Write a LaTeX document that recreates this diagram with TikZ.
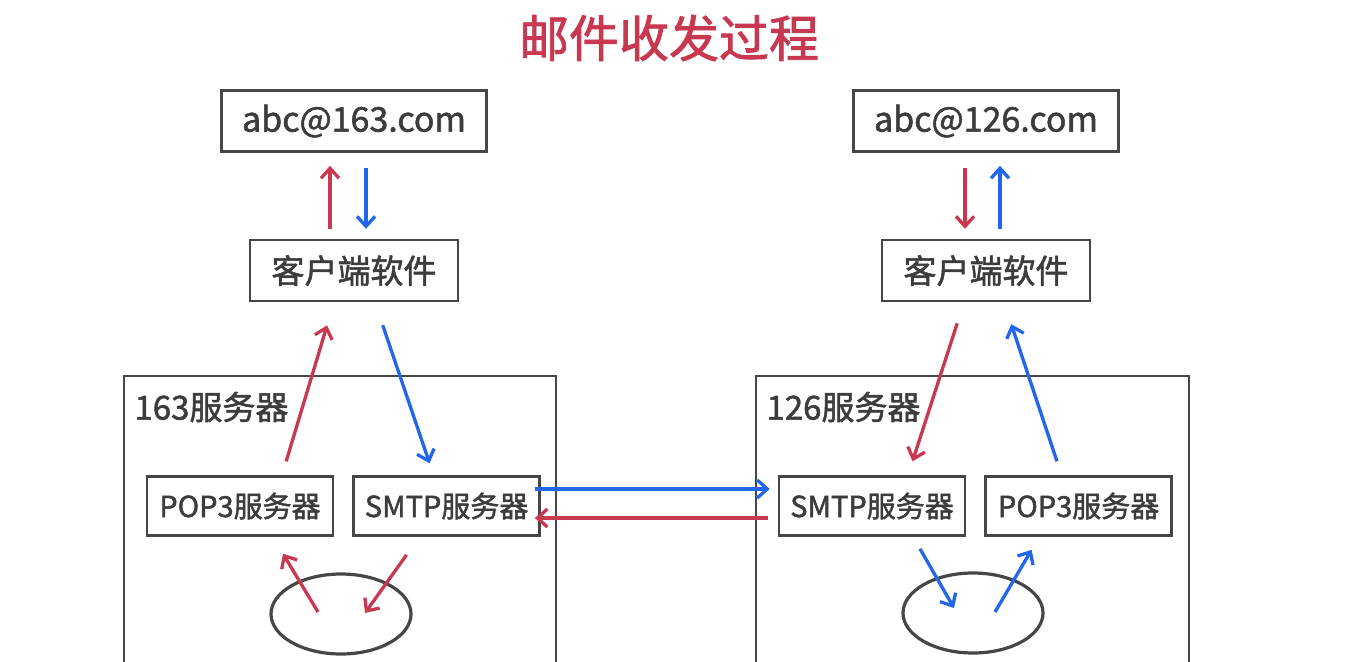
\documentclass[tikz,border=0pt]{standalone}
\usepackage{fontspec}
\setmainfont{Noto Sans CJK SC}[FakeBold=1.6]
\usetikzlibrary{
    positioning,
    arrows.meta,
    shapes.geometric
}
\definecolor{mailred}{RGB}{200,56,80}
\definecolor{mailblue}{RGB}{33,102,235}
\definecolor{boxgray}{RGB}{70,70,70}
\definecolor{textgray}{RGB}{60,60,60}

\begin{document}
\begin{tikzpicture}[
    x=1pt, y=-1pt,
    % Estilos de cajas
    mailbox/.style={rectangle, draw=boxgray, line width=2.6pt, text=textgray, inner sep=0pt,
                    minimum width=265pt, minimum height=61pt, font=\fontsize{34}{37}\selectfont},
    client/.style={mailbox, minimum width=208pt, font=\fontsize{33}{36}\selectfont},
    server/.style={mailbox, minimum width=186pt, minimum height=59pt, font=\fontsize{29}{32}\selectfont},
    store/.style={ellipse, draw=boxgray, line width=3.2pt, minimum width=140pt, minimum height=80pt},
    frame/.style={draw=boxgray, line width=2.6pt},
    frame_label/.style={anchor=west, text=textgray, font=\fontsize{33}{36}\selectfont},
    % Estilos de flechas
    red_arrow/.style={-{Straight Barb[length=10pt,width=18pt]}, line width=3.3pt, draw=mailred},
    blue_arrow/.style={-{Straight Barb[length=10pt,width=18pt]}, line width=3.3pt, draw=mailblue}
]
\useasboundingbox (0,0) rectangle (1359,661);
\clip (0,0) rectangle (1359,661);

% --- Titulo ---
\node[text=mailred, font=\fontsize{50}{55}\selectfont] (title) at (669,38) {邮件收发过程};

% === Lado 163 ===
\node[mailbox] (mail163) at (354,121) {abc@163.com};
\node[client] (client163) [below=86pt of mail163] {客户端软件};
\draw[frame] (124,680) -- (124,376) -- (556,376) -- (556,680);
\node[frame_label] (label163) at (131,407) {163服务器};
\node[server] (pop163) at (240,506) {POP3服务器};
\node[server] (smtp163) [right=18pt of pop163] {SMTP服务器};
\node[store] (store163) at (341,614) {};

% === Lado 126 ===
\node[mailbox] (mail126) at (986,121) {abc@126.com};
\node[client] (client126) [below=86pt of mail126] {客户端软件};
\draw[frame] (756,680) -- (756,376) -- (1189,376) -- (1189,680);
\node[frame_label] (label126) at (763,407) {126服务器};
\node[server] (smtp126) at (872,506) {SMTP服务器};
\node[server] (pop126) [right=18pt of smtp126] {POP3服务器};
\node[store] (store126) at (973,613) {};

% --- Flechas buzon <-> cliente ---
\draw[red_arrow, shorten <=10pt, shorten >=13pt] ([xshift=-24pt]client163.north) -- ([xshift=-24pt]mail163.south);
\draw[blue_arrow, shorten <=15pt, shorten >=10pt] ([xshift=12pt]mail163.south) -- ([xshift=12pt]client163.north);
\draw[red_arrow, shorten <=15pt, shorten >=10pt] ([xshift=-21pt]mail126.south) -- ([xshift=-21pt]client126.north);
\draw[blue_arrow, shorten <=10pt, shorten >=13pt] ([xshift=14pt]client126.north) -- ([xshift=14pt]mail126.south);

% --- Flechas cliente <-> servidores ---
\draw[red_arrow, shorten <=14.5pt, shorten >=24pt] ([xshift=42pt]pop163.north) -- ([xshift=-20pt]client163.south);
\draw[blue_arrow, shorten <=24pt, shorten >=12.6pt] ([xshift=21pt]client163.south) -- ([xshift=-13pt]smtp163.north);
\draw[red_arrow, shorten <=22pt, shorten >=14.7pt] ([xshift=-22pt]client126.south) -- ([xshift=36pt]smtp126.north);
\draw[blue_arrow, shorten <=14.7pt, shorten >=23pt] ([xshift=-17pt]pop126.north) -- ([xshift=18pt]client126.south);

% --- SMTP <-> SMTP ---
\draw[blue_arrow, shorten <=-6pt, shorten >=8pt] ([yshift=17pt]smtp163.east) -- ([yshift=17pt]smtp126.west);
\draw[red_arrow, shorten <=10pt, shorten >=-6pt] ([yshift=-12pt]smtp126.west) -- ([yshift=-12pt]smtp163.east);

% --- Almacenamiento ---
\draw[red_arrow] ([xshift=-23pt,yshift=2pt]store163.center) -- ([xshift=43pt,yshift=-17pt]pop163.south);
\draw[red_arrow] ([xshift=-40pt,yshift=-18pt]smtp163.south) -- ([xshift=24pt,yshift=1pt]store163.center);
\draw[blue_arrow] ([xshift=48pt,yshift=-12pt]smtp126.south) -- ([xshift=-19pt,yshift=5pt]store126.center);
\draw[blue_arrow] ([xshift=22pt,yshift=1pt]store126.center) -- ([xshift=-47pt,yshift=-13pt]pop126.south);

\end{tikzpicture}
\end{document}
